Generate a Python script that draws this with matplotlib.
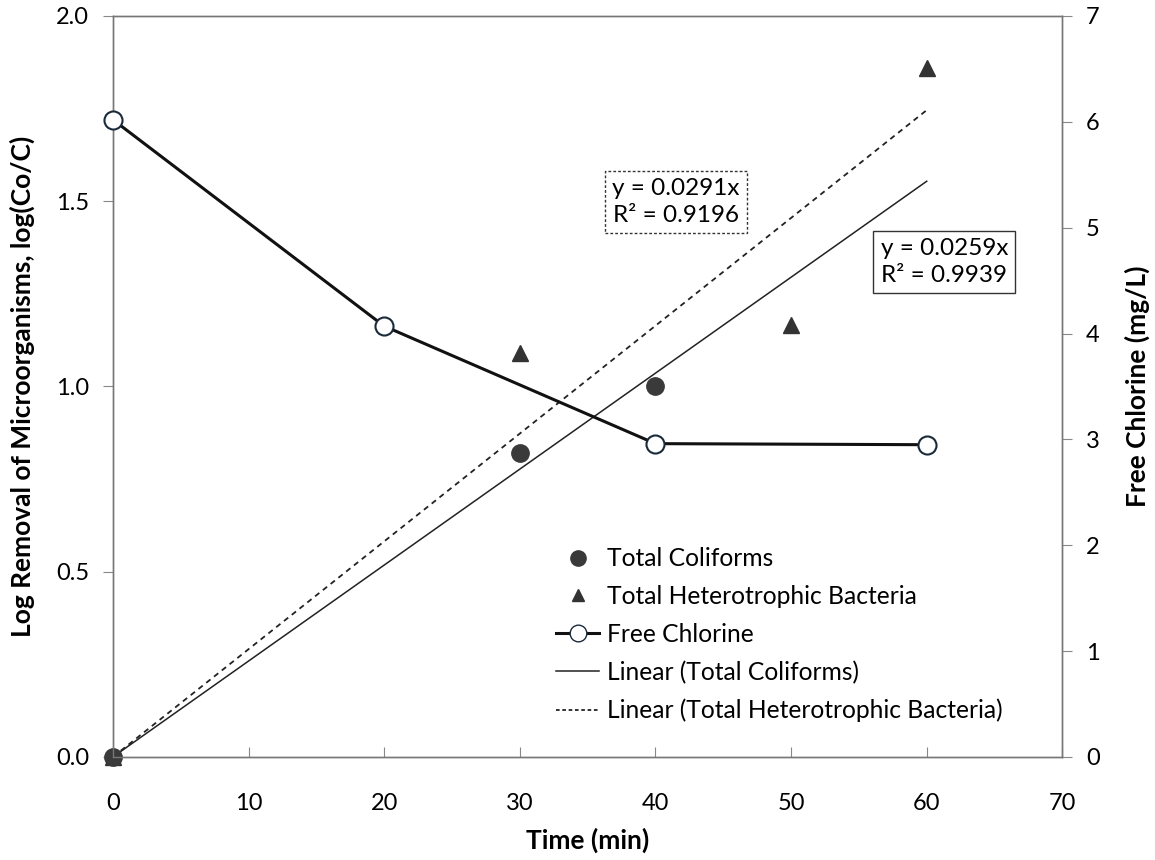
import numpy as np
import matplotlib
matplotlib.use("Agg")
import matplotlib.pyplot as plt
from matplotlib.lines import Line2D

plt.rcParams['font.family'] = ['Lato', 'DejaVu Sans']

# data
time_cl = [0, 20, 40, 60]
free_chlorine = [6.02, 4.07, 2.96, 2.95]

time_tc = [0, 30, 40]
total_coliforms = [0.0, 0.82, 1.0]

time_hpc = [0, 30, 50, 60]
heterotrophic = [0.0, 1.09, 1.165, 1.86]

# trendlines through origin (values from the chart labels)
slope_tc, r2_tc = 0.0259, 0.9939
slope_hpc, r2_hpc = 0.0291, 0.9196
trend_x = [0, 60]

fig = plt.figure(figsize=(11.55, 8.6), dpi=100)
ax = fig.add_axes([0.0978, 0.1198, 0.822, 0.8616])
ax2 = ax.twinx()

tx = np.array(trend_x)
ax.plot(tx, slope_tc * tx, color='#222222', lw=1.1, zorder=2)
ax.plot(tx, slope_hpc * tx, color='#222222', lw=1.3, ls=(0, (3, 2.5)), zorder=2)
ax.plot(time_hpc, heterotrophic, '^', color='#333333', ms=11, zorder=3, clip_on=False)
ax.plot(time_tc, total_coliforms, 'o', color='#3a3a3a', ms=12.5, zorder=4, clip_on=False)

ax2.plot(time_cl, free_chlorine, '-o', color='#111111', lw=2.2, ms=13,
         mfc='white', mec='#1a2a3a', mew=1.5, zorder=5, clip_on=False)

ax.set_xlim(0, 70)
ax.set_ylim(0, 2.0)
ax2.set_ylim(0, 7)
ax.set_xticks(np.arange(0, 71, 10))
ax.set_yticks([0.0, 0.5, 1.0, 1.5, 2.0])
ax.set_yticklabels(['0.0', '0.5', '1.0', '1.5', '2.0'])
ax2.set_yticks(range(0, 8))

for a in (ax, ax2):
    for s in a.spines.values():
        s.set_color('#777777')
        s.set_linewidth(1.0)
ax.tick_params(axis='x', direction='in', length=7, color='#888888', labelsize=17, pad=26)
ax.tick_params(axis='y', direction='out', length=7, color='#888888', labelsize=17, pad=10)
ax2.tick_params(axis='y', direction='out', length=7, color='#888888', labelsize=17, pad=10)

ax.set_xlabel('Time (min)', fontsize=19, fontweight='bold', labelpad=10)
ax.set_ylabel('Log Removal of Microorganisms, log(Co/C)', fontsize=19, fontweight='bold', labelpad=15)
ax2.set_ylabel('Free Chlorine (mg/L)', fontsize=19, fontweight='bold', labelpad=18)

ax.text(41.5, 1.498, 'y = 0.0291x\nR² = 0.9196', fontsize=17.5, linespacing=1.35,
        ha='center', va='center',
        bbox=dict(boxstyle='square,pad=0.3', fc='white', ec='#333333', ls=(0, (2, 1.5)), lw=1))
ax.text(61.3, 1.336, 'y = 0.0259x\nR² = 0.9939', fontsize=17.5, linespacing=1.35,
        ha='center', va='center',
        bbox=dict(boxstyle='square,pad=0.3', fc='white', ec='#333333', lw=1))

handles = [
    Line2D([], [], ls='none', marker='o', color='#3a3a3a', ms=11),
    Line2D([], [], ls='none', marker='^', color='#333333', ms=9),
    Line2D([], [], color='#111111', lw=2.2, marker='o', ms=12, mfc='white', mec='#1a2a3a'),
    Line2D([], [], color='#222222', lw=1.1),
    Line2D([], [], color='#222222', lw=1.3, ls=(0, (2, 1.5))),
]
labels = ['Total Coliforms', 'Total Heterotrophic Bacteria', 'Free Chlorine',
          'Linear (Total Coliforms)', 'Linear (Total Heterotrophic Bacteria)']
leg = ax2.legend(handles, labels, loc='upper left', bbox_to_anchor=(0.467, 0.283),
                 frameon=False, fontsize=17.7, handlelength=1.75, handletextpad=0.33,
                 labelspacing=0.6, borderpad=0, borderaxespad=0)

fig.savefig('out.png', dpi=100)
